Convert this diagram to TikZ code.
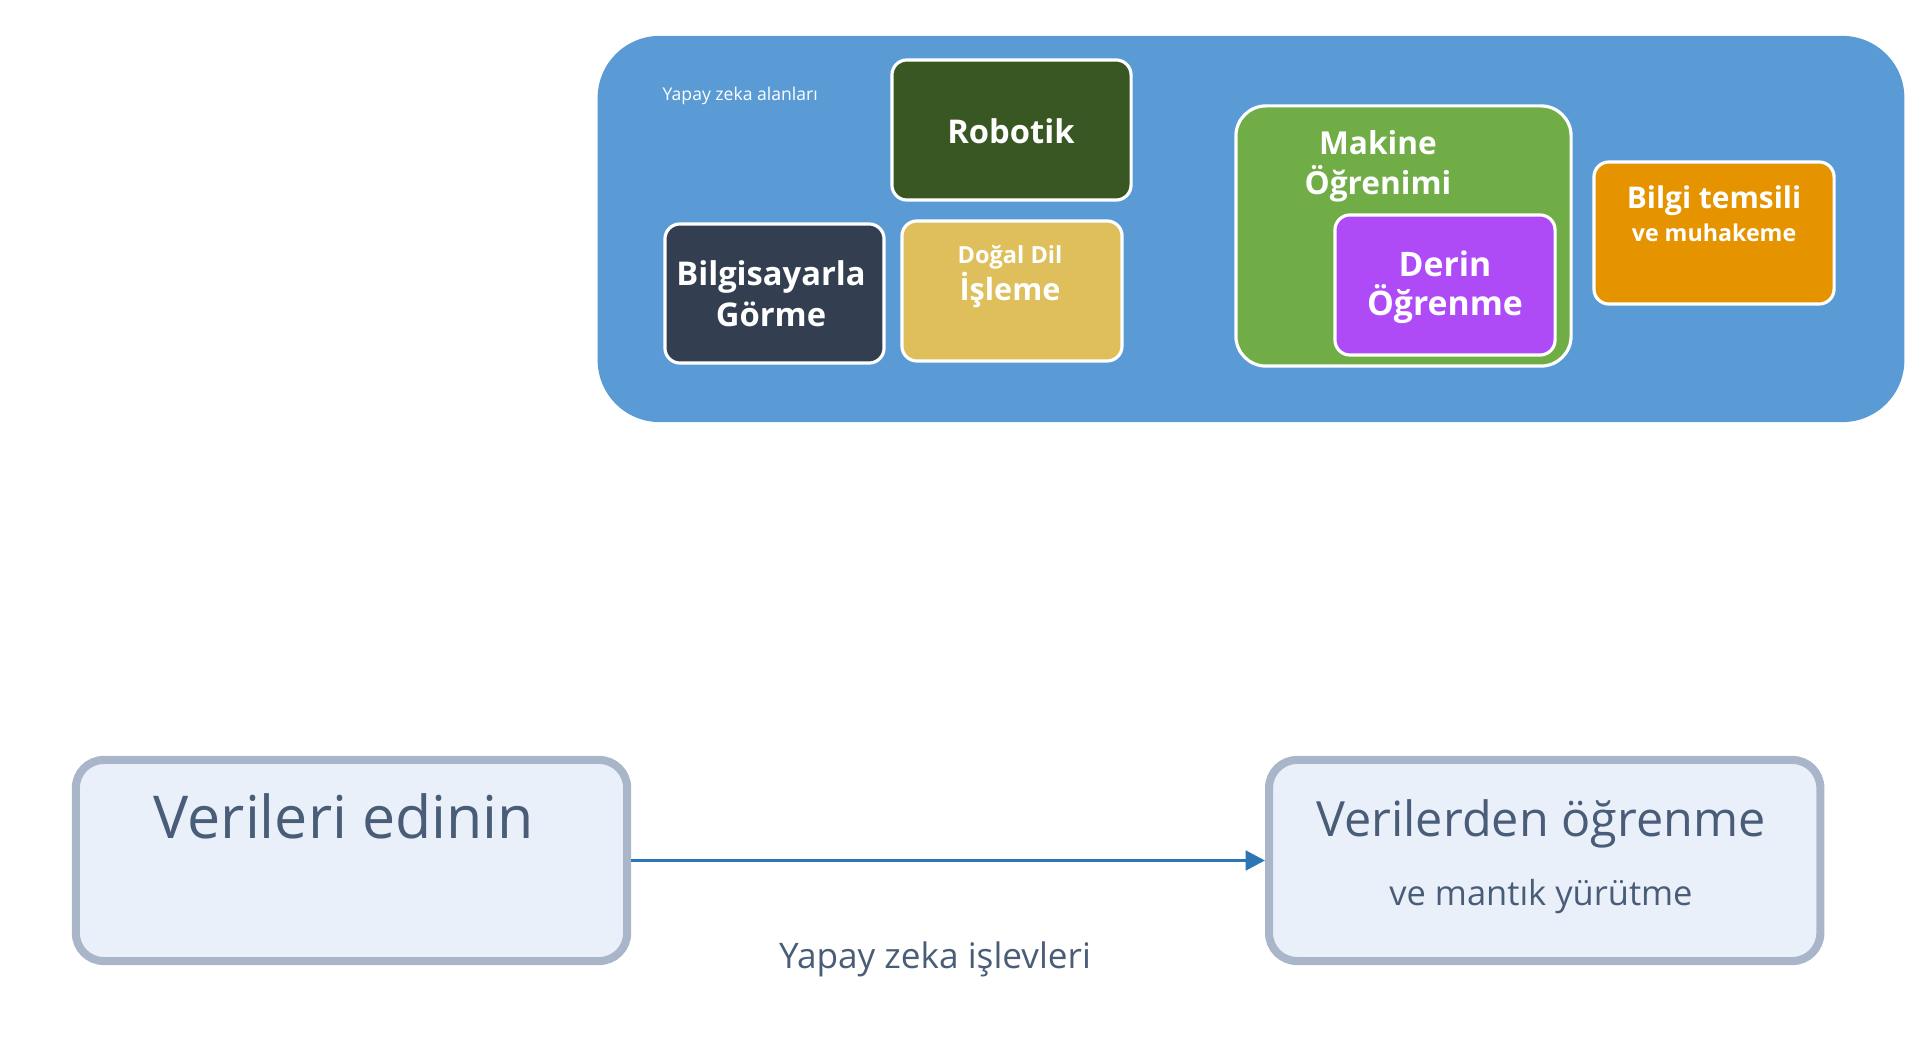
\documentclass[tikz,border=0pt]{standalone}
\usepackage{fontspec}
\setmainfont{Open Sans}
\usetikzlibrary{arrows.meta,positioning}

\definecolor{panelblue}{HTML}{5A9BD5}
\definecolor{robotgreen}{HTML}{385723}
\definecolor{visionslate}{HTML}{333F50}
\definecolor{nlpgold}{HTML}{DEBF5C}
\definecolor{mlgreen}{HTML}{70AD47}
\definecolor{dlpurple}{HTML}{AE4BF7}
\definecolor{krorange}{HTML}{E59400}
\definecolor{stagefill}{HTML}{E9F0FA}
\definecolor{stageedge}{HTML}{A9B6C9}
\definecolor{stageink}{HTML}{4A5D78}
\definecolor{flowblue}{HTML}{2E75B6}

\begin{document}
\begin{tikzpicture}[
  x=0.01cm, y=-0.01cm,
  node distance=1.6cm,
  panel/.style={fill=panelblue, rounded corners=0.62cm, inner sep=0, minimum width=13.06cm, minimum height=3.86cm},
  area/.style={draw=white, line width=0.9pt, rounded corners=0.15cm, inner sep=0},
  areatext/.style={text=white, align=center, anchor=base, inner sep=0, font=\bfseries\fontsize{9.3}{11.7}\selectfont},
  stage/.style={draw=stageedge, fill=stagefill, line width=2.3pt, rounded corners=0.28cm, minimum width=5.51cm, minimum height=2.01cm},
  stagetext/.style={text=stageink, align=center, anchor=base, inner sep=0},
  flow/.style={line width=1.1pt, flowblue, -{Triangle[length=5.5pt,width=5.5pt]}}
]
\useasboundingbox (0,0) rectangle (1927,1037);

% AI fields
\node[panel] (fields) at (1251,229) {};
\node[text=white, anchor=base west, inner sep=0, font=\fontsize{5}{6}\selectfont] (fieldstitle) at (662,101) {Yapay zeka alanları};

\node[area, fill=robotgreen, minimum width=2.39cm, minimum height=1.40cm] (robot) at (1011.5,130) {};
\node[areatext] (robottext) at (1011,144) {Robotik};

\node[area, fill=visionslate, minimum width=2.19cm, minimum height=1.39cm] (vision) at (774.5,293.5) {};
\node[areatext] (visiontext) at (771,327) {Bilgisayarla\\Görme};

\node[area, fill=nlpgold, minimum width=2.20cm, minimum height=1.40cm] (nlp) at (1012,291) {};
\node[areatext, font=\bfseries\fontsize{8.7}{10.8}\selectfont] (nlptext) at (1010,301) {{\fontsize{6.7}{10.8}\selectfont Doğal Dil}\\İşleme};

\node[area, fill=mlgreen, minimum width=3.35cm, minimum height=2.60cm, rounded corners=0.3cm] (ml) at (1403.5,236) {};
\node[areatext, font=\bfseries\fontsize{9}{11.4}\selectfont] (mltext) at (1378,195) {Makine\\Öğrenimi};

\node[area, fill=dlpurple, minimum width=2.20cm, minimum height=1.40cm] (dl) at (1445,285) {};
\node[areatext, font=\bfseries\fontsize{9.6}{11.2}\selectfont] (dltext) at (1445,316) {Derin\\Öğrenme};

\node[area, fill=krorange, minimum width=2.40cm, minimum height=1.42cm] (kr) at (1714,233) {};
\node[areatext, font=\bfseries\fontsize{8.5}{9.4}\selectfont] (krtext) at (1714,242) {Bilgi temsili\\{\fontsize{6.6}{9.4}\selectfont ve muhakeme}};

% AI functions
\node[stage] (acquire) at (351.5,860.5) {};
\node[stage, right of=acquire, xshift=10.325cm] (learn) {};
\node[stagetext, font=\fontsize{16.8}{19}\selectfont] (acquiretext) at (344,839) {Verileri edinin};
\node[stagetext, font=\fontsize{13.8}{19.6}\selectfont] (learntext) at (1541,905) {Verilerden öğrenme\\{\fontsize{9.8}{19.6}\selectfont ve mantık yürütme}};

\draw[flow] (acquire) -- (learn);
\node[stagetext, font=\fontsize{10}{12}\selectfont] (functions) at (935,968) {Yapay zeka işlevleri};

\end{tikzpicture}
\end{document}
